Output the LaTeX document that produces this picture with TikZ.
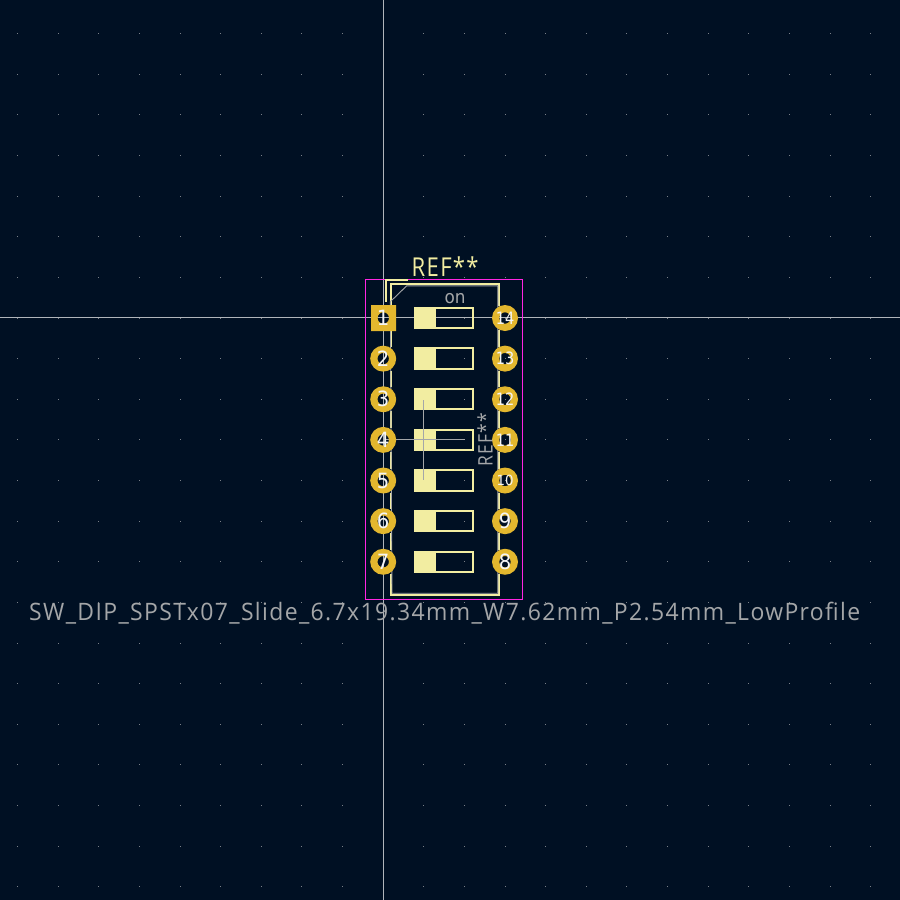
\documentclass[tikz,border=0pt]{standalone}
\usepackage{fontspec}
\setmainfont[LetterSpace=6]{Open Sans}
\newfontfamily\digitfont{DejaVu Sans}
\newcommand{\fitw}[2]{\resizebox{#1pt}{\height}{#2}}
\definecolor{bgc}{HTML}{001023}
\definecolor{silk}{HTML}{F2EDA1}
\definecolor{padc}{HTML}{E3B72E}
\definecolor{fabc}{HTML}{A4A6A8}
\definecolor{crt}{HTML}{FF26E2}
\definecolor{axisc}{HTML}{B0B5BA}
\definecolor{gridc}{HTML}{7A8088}
\definecolor{numc}{HTML}{F4F5F6}
\tikzset{
  silkline/.style={draw=silk,line width=2.1pt,line cap=butt},
  fabline/.style={draw=fabc,line width=0.9pt},
  padnum/.style={text=numc,inner sep=0pt,font=\digitfont\fontsize{21}{21}\selectfont},
  padnumtwo/.style={text=numc,inner sep=0pt,font=\digitfont\fontsize{17}{17}\selectfont},
  fabtext/.style={text=fabc,inner sep=0pt},
  silktext/.style={text=silk,inner sep=0pt}
}
\begin{document}
\begin{tikzpicture}[x=1pt,y=-1pt]
\useasboundingbox (0,0) rectangle (900,900);
\fill[bgc] (0,0) rectangle (900,900);
% grid
\foreach \i in {-9,...,12}{
  \foreach \j in {-7,...,14}{
    \fill[gridc] ({383.2+40.63*\i-0.5},{318+40.63*\j-0.5}) rectangle +(1,1);
  }
}
% axes
\draw[axisc,line width=1pt] (383.5,0) -- (383.5,900);
\draw[axisc,line width=1pt] (0,317.8) -- (900,317.8);
% courtyard
\draw[crt,line width=1pt] (365.5,279.5) rectangle (522.5,599.5);
% silk body
\draw[silkline] (386,301.5) -- (386,280) -- (408,280);
\draw[silkline] (390.8,305) -- (390.8,284.4) -- (498.6,284.4) -- (498.6,306);
\draw[silkline] (390.8,574) -- (390.8,594.6) -- (498.6,594.6) -- (498.6,574);
\foreach \k in {0,...,5}{
  \draw[silkline] (390.8,{318+40.63*\k+12}) -- (390.8,{318+40.63*(\k+1)-12});
  \draw[silkline] (498.6,{318+40.63*\k+12}) -- (498.6,{318+40.63*(\k+1)-12});
}
% switches
\foreach \k in {0,...,6}{
  \fill[silk] (414,{318+40.63*\k-11}) rectangle (436,{318+40.63*\k+11});
  \draw[silk,line width=2pt] (415,{318+40.63*\k-10.2}) rectangle (473,{318+40.63*\k+10.2});
}
% fab outline
\draw[fabline] (406.7,285.8) -- (497.8,285.8) -- (497.8,593.2) -- (392,593.2) -- (390.3,301.7) -- cycle;
\draw[fabline] (423.5,400) -- (423.5,480);
\draw[fabline] (385,439) -- (465,439);
% pads
\fill[padc,even odd rule] (371,305) rectangle (396,331) (383.3,318) circle (5.7);
\foreach \k in {1,...,6}{
  \fill[padc,even odd rule] (383.2,{318+40.63*\k}) circle (13) circle (5.7);
}
\foreach \k in {0,...,6}{
  \fill[padc,even odd rule] (505,{318+40.63*\k}) circle (13) circle (5.7);
}
% numbers
\foreach \k [evaluate=\k as \yy using {318+40.63*(\k-1)}] in {1,...,7}{
  \node[padnum] (n\k) at (383.2,\yy) {\fitw{12.5}{\k}};
}
\foreach \k/\lab in {0/14,1/13,2/12,3/11}{
  \node[padnumtwo] (m\lab) at (505,{318+40.63*\k}) {\fitw{18.5}{\lab}};
}
\node[padnumtwo,font=\digitfont\fontsize{14}{14}\selectfont] (m10) at (505,{318+40.63*4}) {\fitw{17}{10}};
\node[padnum] (m9) at (505,{318+40.63*5}) {\fitw{12.5}{9}};
\node[padnum] (m8) at (505,{318+40.63*6}) {\fitw{12.5}{8}};
% texts
\node[silktext,anchor=base west,font=\fontsize{26}{26}\selectfont] (refsilk) at (411.5,276) {\fitw{67}{REF**}};
\node[fabtext,anchor=base,font=\digitfont\fontsize{18}{18}\selectfont] (ontext) at (455,303.5) {\fitw{21}{on}};
\node[fabtext,anchor=base west,rotate=90,font=\fontsize{20}{20}\selectfont] (reffab) at (492.5,466.5) {\fitw{53}{REF**}};
\node[fabtext,anchor=base west,font=\fontsize{24}{24}\selectfont] (fpname) at (29,620) {\fitw{831}{SW\_DIP\_SPSTx07\_Slide\_6.7x19.34mm\_W7.62mm\_P2.54mm\_LowProfile}};
\end{tikzpicture}
\end{document}
